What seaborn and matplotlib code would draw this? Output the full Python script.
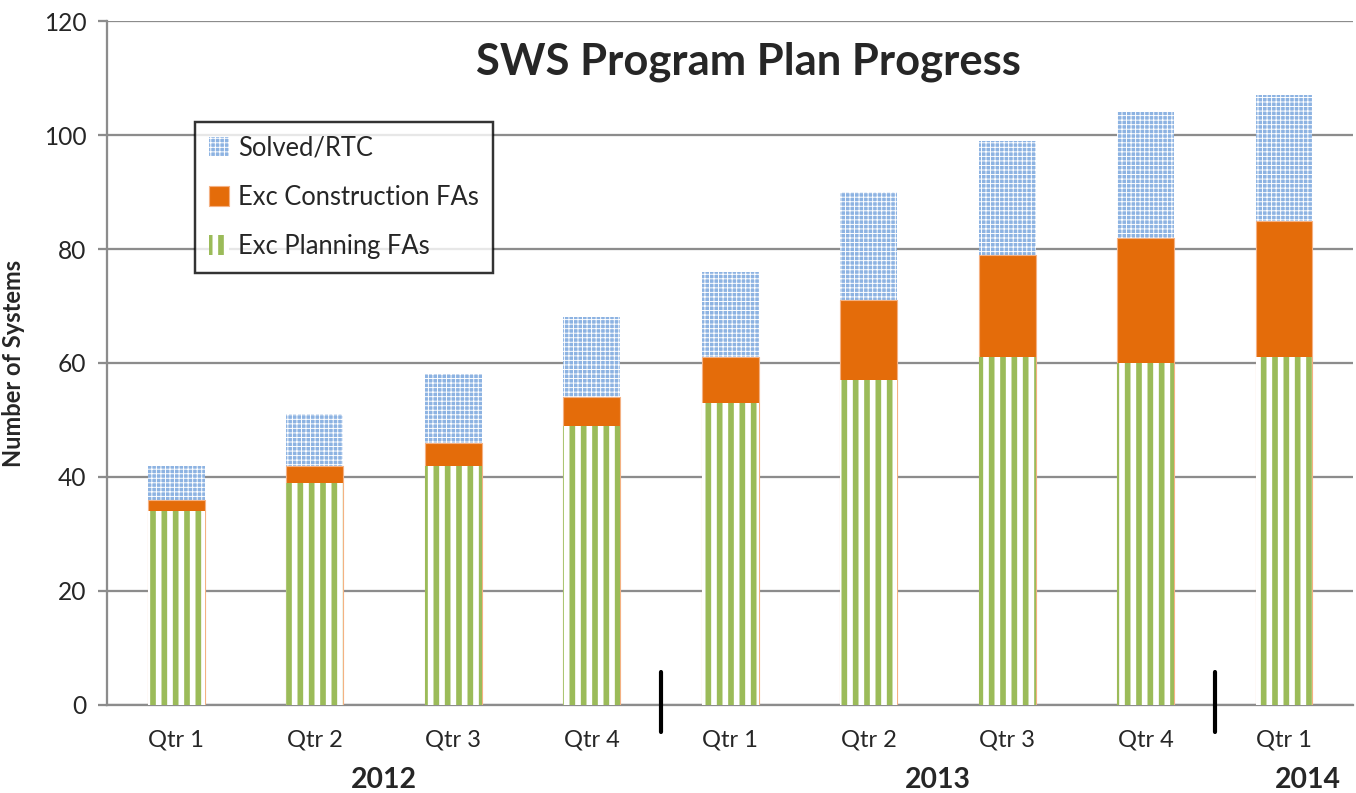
import numpy as np
import pandas as pd
import matplotlib
matplotlib.use("Agg")
import matplotlib.pyplot as plt
import seaborn as sns

# data
slots = ["2012 Q1", "2012 Q2", "2012 Q3", "2012 Q4", "2013 Q1", "2013 Q2", "2013 Q3", "2013 Q4", "2014 Q1"]
qtr_labels = ["Qtr 1", "Qtr 2", "Qtr 3", "Qtr 4", "Qtr 1", "Qtr 2", "Qtr 3", "Qtr 4", "Qtr 1"]
planning = [34, 39, 42, 49, 53, 57, 61, 60, 61]
construction = [2, 3, 4, 5, 8, 14, 18, 22, 24]
solved = [6, 9, 12, 14, 15, 19, 20, 22, 22]
years = ["2012", "2013", "2014"]
year_pos = [1.5, 5.5, 8.17]
separators = [3.5, 7.5]

GREEN = "#9BBB59"
ORANGE = "#E46C0A"
BLUE = "#8DB3E2"
GRID = "#8C8C8C"

df = pd.DataFrame({"slot": slots, "planning": planning,
                   "construction": construction, "solved": solved})
df["top2"] = df["planning"] + df["construction"]
df["total"] = df["top2"] + df["solved"]

sns.set_style("white")
plt.rcParams["font.family"] = ["Lato", "DejaVu Sans"]

BLUE_HLW = 0.5
GREEN_HLW = 3.0


def set_hatch_lw(p, lw):
    if hasattr(p, "set_hatch_linewidth"):
        p.set_hatch_linewidth(lw)


fig = plt.figure(figsize=(1356 / 136, 793 / 136), dpi=136)
ax = fig.add_axes([0.079, 0.111, 0.919, 0.8625])
W = 0.41

# solved / RTC (drawn as total, covered below)
plt.rcParams["hatch.linewidth"] = BLUE_HLW
sns.barplot(data=df, x="slot", y="total", order=slots, color=BLUE, saturation=1,
            width=W, ax=ax, zorder=3)
for p in ax.containers[-1]:
    p.set_facecolor(BLUE)
    p.set_edgecolor("white")
    p.set_linewidth(0)
    p.set_hatch("+++++")
    set_hatch_lw(p, BLUE_HLW)

sns.barplot(data=df, x="slot", y="top2", order=slots, color=ORANGE, saturation=1,
            width=W, ax=ax, zorder=4)
for p in ax.containers[-1]:
    p.set_facecolor(ORANGE)
    p.set_edgecolor("#F4B183")
    p.set_linewidth(0.6)

plt.rcParams["hatch.linewidth"] = GREEN_HLW
sns.barplot(data=df, x="slot", y="planning", order=slots, color="white", saturation=1,
            width=W, ax=ax, zorder=5)
for p in ax.containers[-1]:
    p.set_facecolor("white")
    p.set_edgecolor(GREEN)
    p.set_linewidth(0)
    p.set_hatch("||")
    set_hatch_lw(p, GREEN_HLW)

ax.set_xlim(-0.5, len(slots) - 0.5)
ax.set_ylim(0, 120)
ax.set_yticks(np.arange(0, 121, 20))
ax.yaxis.grid(True, color=GRID, linewidth=1.2, zorder=0)
ax.set_axisbelow(True)
ax.set_xticks(range(len(slots)))
ax.set_xticklabels(qtr_labels, fontsize=12.5)
ax.tick_params(axis="x", length=0, pad=13)
ax.tick_params(axis="y", length=5, color=GRID, width=1.2, labelsize=13, pad=6, left=True)
for s in ["top", "right"]:
    ax.spines[s].set_visible(False)
for s in ["left", "bottom"]:
    ax.spines[s].set_color(GRID)
    ax.spines[s].set_linewidth(1.2)
ax.set_xlabel("")
ax.set_ylabel("Number of Systems", fontsize=12.5, fontweight="bold", labelpad=10)

ax.text(0.515, 0.94, "SWS Program Plan Progress", transform=ax.transAxes,
        ha="center", va="center", fontsize=23, fontweight="bold")

trans = ax.get_xaxis_transform()
for yr, xp in zip(years, year_pos):
    ax.text(xp, -0.11, yr, transform=trans, ha="center", va="center",
            fontsize=15, fontweight="bold")
for xs in separators:
    ax.plot([xs, xs], [-0.04, 0.048], transform=trans, color="black",
            linewidth=2.2, clip_on=False, zorder=6)

handles = [ax.containers[0][0], ax.containers[1][0], ax.containers[2][0]]
labels = ["Solved/RTC", "Exc Construction FAs", "Exc Planning FAs"]
leg = ax.legend(handles, labels, loc="upper left", bbox_to_anchor=(0.0705, 0.853),
                fontsize=13.5, frameon=True, fancybox=False, labelspacing=0.95,
                handlelength=0.8, handleheight=0.8, handletextpad=0.35,
                borderpad=0.55, borderaxespad=0)
leg.get_frame().set_edgecolor("black")
leg.get_frame().set_linewidth(1.3)
leg.set_zorder(10)
lh = leg.legend_handles
set_hatch_lw(lh[0], BLUE_HLW)
set_hatch_lw(lh[2], GREEN_HLW)

fig.savefig("out.png", dpi=136)
